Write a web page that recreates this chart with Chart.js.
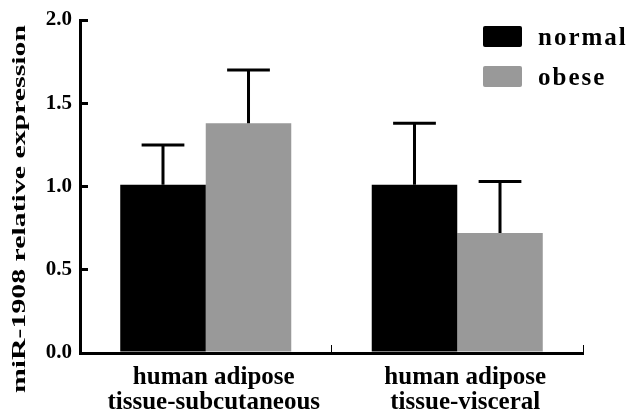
<!DOCTYPE html>
<html>
<head>
<meta charset="utf-8">
<script src="https://cdn.jsdelivr.net/npm/chart.js@4.4.1/dist/chart.umd.min.js"></script>
<style>
  html, body { margin: 0; padding: 0; background: #fff; }
  .wrap { position: relative; width: 630px; height: 417px; }
  .legend { position: absolute; left: 483px; top: 26px; font-weight: bold; font-size: 25px; font-family: "Liberation Serif", "Times New Roman", serif; color: #000; }
  .legend-item { display: flex; align-items: center; height: 21px; margin-bottom: 19px; letter-spacing: 2px; white-space: nowrap; }
  .legend-box { display: inline-block; width: 39px; height: 21px; margin-right: 16px; border-radius: 2px; }
</style>
</head>
<body>
<div class="wrap">
  <canvas id="barChart"></canvas>
  <div class="legend" id="barLegend"></div>
</div>
<script>
// values
const categories  = [['human adipose', 'tissue-subcutaneous'], ['human adipose', 'tissue-visceral']];
const seriesNames = ['normal', 'obese'];
const normalMeans = [1.01, 1.01];
const normalErr   = [0.24, 0.37];
const obeseMeans  = [1.38, 0.72];
const obeseErr    = [0.32, 0.31];
const yTicks      = [0, 0.5, 1.0, 1.5, 2.0];

const COLORS = ['#000000', '#999999'];
const FONT = '"Liberation Serif", "Times New Roman", serif';
const Y_TITLE = 'miR-1908 relative expression';

// ── Legend ────────────────────────────────────────────────────────────────────
document.getElementById('barLegend').innerHTML = seriesNames.map((n, i) =>
  `<div class="legend-item"><span class="legend-box" style="background:${COLORS[i]}"></span>${n}</div>`
).join('');

// ── Error bars (upper only) ───────────────────────────────────────────────────
const errorBars = {
  id: 'errorBars',
  afterDatasetsDraw(chart) {
    const ctx = chart.ctx;
    const y = chart.scales.y;
    ctx.save();
    ctx.strokeStyle = '#000';
    ctx.lineWidth = 3;
    chart.data.datasets.forEach((ds, di) => {
      chart.getDatasetMeta(di).data.forEach((bar, i) => {
        const top = y.getPixelForValue(ds.data[i] + ds.errors[i]);
        const half = bar.width / 4;
        ctx.beginPath();
        ctx.moveTo(bar.x, bar.y);
        ctx.lineTo(bar.x, top);
        ctx.moveTo(bar.x - half, top);
        ctx.lineTo(bar.x + half, top);
        ctx.stroke();
      });
    });
    ctx.restore();
  },
};

// ── Y title, stretched along its length like the original ────────────────────
const yTitle = {
  id: 'yTitle',
  afterDraw(chart) {
    const ctx = chart.ctx;
    ctx.save();
    ctx.font = 'bold 19px ' + FONT;
    ctx.fillStyle = '#000';
    ctx.textAlign = 'center';
    ctx.textBaseline = 'middle';
    ctx.translate(20, 209);
    ctx.rotate(-Math.PI / 2);
    const w = ctx.measureText(Y_TITLE).width;
    ctx.scale(368 / w, 1);
    ctx.fillText(Y_TITLE, 0, 0);
    ctx.restore();
  },
};

new Chart(document.getElementById('barChart'), {
  type: 'bar',
  data: {
    labels: categories,
    datasets: [
      { label: seriesNames[0], data: normalMeans, errors: normalErr, backgroundColor: COLORS[0] },
      { label: seriesNames[1], data: obeseMeans,  errors: obeseErr,  backgroundColor: COLORS[1] },
    ],
  },
  options: {
    responsive: true,
    maintainAspectRatio: false,
    animation: false,
    layout: { padding: { top: 20, right: 47, left: 0, bottom: 0 } },
    datasets: { bar: { categoryPercentage: 0.68, barPercentage: 1.0 } },
    plugins: { legend: { display: false }, tooltip: { enabled: false } },
    scales: {
      x: {
        z: 1,
        border: { color: '#000', width: 3 },
        grid: { drawOnChartArea: false, color: '#000', lineWidth: 1, tickLength: -8 },
        ticks: { color: '#000', padding: 20, labelOffset: 8, font: { family: FONT, size: 25, weight: 'bold', lineHeight: 1.0 } },
        afterFit: s => { s.height = 64; s.paddingLeft = 0; s.paddingRight = 0; },
      },
      y: {
        min: 0, max: 2.0,
        afterBuildTicks: s => { s.ticks = yTicks.map(v => ({ value: v })); },
        border: { color: '#000', width: 3 },
        grid: { drawOnChartArea: false, color: '#000', lineWidth: 3, tickLength: -8 },
        ticks: { color: '#000', padding: 16, font: { family: FONT, size: 21, weight: 'bold' }, callback: v => v.toFixed(1) },
        afterFit: s => { s.width = 80; s.paddingTop = 0; s.paddingBottom = 0; },
      },
    },
  },
  plugins: [errorBars, yTitle],
});
</script>
</body>
</html>
